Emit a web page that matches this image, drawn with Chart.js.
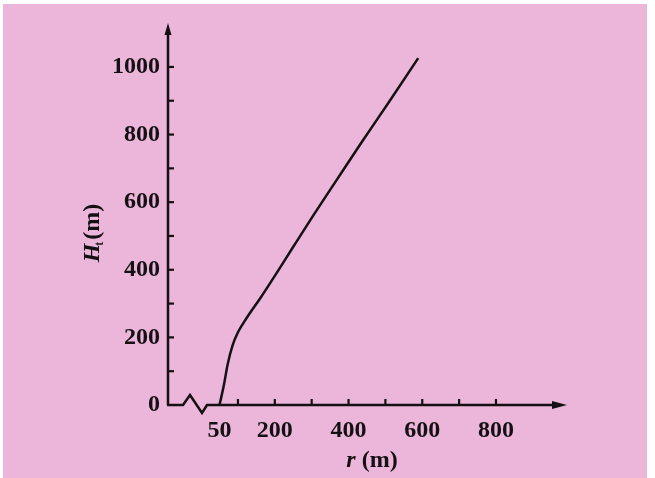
<!DOCTYPE html>
<html>
<head>
<meta charset="utf-8">
<script src="https://cdn.jsdelivr.net/npm/chart.js@4.4.1/dist/chart.umd.min.js"></script>
<style>
  html, body { margin: 0; padding: 0; background: #fff; }
  #wrap { width: 655px; height: 478px; }
</style>
</head>
<body>
<div id="wrap"><canvas id="chart" width="655" height="478"></canvas></div>
<script>
// values
const radius = [50, 62, 72, 85, 100, 124, 160, 200, 250, 304, 368, 436, 512, 589];
const heightM = [0, 60, 120, 175, 215, 258, 315, 382, 468, 560, 666, 778, 900, 1026];

const yTickLabels = [0, 200, 400, 600, 800, 1000];
const xTickLabels = [50, 200, 400, 600, 800];
const yTickMarks = [100, 200, 300, 400, 500, 600, 700, 800, 900, 1000];
const xTickMarks = [100, 200, 300, 400, 500, 600, 700, 800];

const ink = '#141014';
const paper = '#ebb6d9';
const serif = '"Liberation Serif", "DejaVu Serif", serif';

const axisDecor = {
    id: 'axisDecor',
    beforeDraw(chart) {
        const ctx = chart.ctx;
        ctx.save();
        ctx.fillStyle = '#fff';
        ctx.fillRect(0, 0, chart.width, chart.height);
        ctx.fillStyle = paper;
        ctx.fillRect(3, 4, 644, 474);
        ctx.restore();
    },
    afterDraw(chart) {
        const { ctx, chartArea: area, scales: { x, y } } = chart;
        const x0 = area.left;
        const y0 = y.getPixelForValue(0);
        ctx.save();
        ctx.strokeStyle = ink;
        ctx.fillStyle = ink;
        ctx.lineWidth = 2.5;
        ctx.lineJoin = 'miter';

        // y axis + arrow
        ctx.beginPath();
        ctx.moveTo(x0, y0);
        ctx.lineTo(x0, area.top + 8);
        ctx.stroke();
        ctx.beginPath();
        ctx.moveTo(x0, area.top);
        ctx.lineTo(x0 - 3.5, area.top + 12);
        ctx.lineTo(x0 + 3.5, area.top + 12);
        ctx.closePath();
        ctx.fill();

        // x axis with the break, + arrow
        ctx.beginPath();
        ctx.moveTo(x0 - 1, y0);
        ctx.lineTo(x0 + 15, y0);
        ctx.lineTo(x0 + 22, y0 - 10);
        ctx.lineTo(x0 + 34, y0 + 8);
        ctx.lineTo(x0 + 39, y0);
        ctx.lineTo(area.right - 8, y0);
        ctx.stroke();
        ctx.beginPath();
        ctx.moveTo(area.right, y0);
        ctx.lineTo(area.right - 15, y0 - 4);
        ctx.lineTo(area.right - 15, y0 + 4);
        ctx.closePath();
        ctx.fill();

        // tick marks pointing inward
        ctx.lineWidth = 2.2;
        yTickMarks.forEach(v => {
            const py = y.getPixelForValue(v);
            ctx.beginPath();
            ctx.moveTo(x0, py);
            ctx.lineTo(x0 + 6, py);
            ctx.stroke();
        });
        xTickMarks.forEach(v => {
            const px = x.getPixelForValue(v);
            ctx.beginPath();
            ctx.moveTo(px, y0);
            ctx.lineTo(px, y0 - 6);
            ctx.stroke();
        });

        // axis titles
        ctx.textBaseline = 'middle';
        ctx.textAlign = 'left';
        // r (m)
        ctx.font = 'italic bold 24px ' + serif;
        const rW = ctx.measureText('r').width;
        ctx.font = 'bold 24px ' + serif;
        const mW = ctx.measureText(' (m)').width;
        let tx = 372 - (rW + mW) / 2;
        ctx.font = 'italic bold 24px ' + serif;
        ctx.fillText('r', tx, 461);
        ctx.font = 'bold 24px ' + serif;
        ctx.fillText(' (m)', tx + rW, 461);

        // H_t (m), rotated
        ctx.translate(93, 233);
        ctx.rotate(-Math.PI / 2);
        ctx.font = 'italic bold 24px ' + serif;
        const hW = ctx.measureText('H').width;
        ctx.font = 'bold 12px ' + serif;
        const sW = ctx.measureText('t').width;
        ctx.font = 'bold 24px ' + serif;
        const pW = ctx.measureText('(m)').width;
        tx = -(hW + sW + pW) / 2;
        ctx.font = 'italic bold 24px ' + serif;
        ctx.fillText('H', tx, 0);
        ctx.font = 'bold 12px ' + serif;
        ctx.fillText('t', tx + hW - 2, 7);
        ctx.font = 'bold 24px ' + serif;
        ctx.fillText('(m)', tx + hW + sW, 0);
        ctx.restore();
    }
};

const ctx = document.getElementById('chart').getContext('2d');
new Chart(ctx, {
    type: 'line',
    data: {
        datasets: [{
            data: radius.map((r, i) => ({ x: r, y: heightM[i] })),
            borderColor: ink,
            borderWidth: 2.5,
            pointRadius: 0,
            fill: false,
            cubicInterpolationMode: 'monotone',
            clip: false
        }]
    },
    options: {
        responsive: false,
        animation: false,
        layout: { padding: { left: 0, top: 23, right: 88, bottom: 0 } },
        scales: {
            x: {
                type: 'linear',
                min: -89.8,
                max: 992.7,
                grid: { display: false, drawTicks: false },
                border: { display: false },
                afterBuildTicks: scale => { scale.ticks = xTickLabels.map(v => ({ value: v })); },
                afterFit: scale => { scale.height = 73; },
                ticks: {
                    color: ink,
                    padding: 11,
                    maxRotation: 0,
                    autoSkip: false,
                    callback: v => String(v),
                    font: { family: serif, size: 24, weight: 'bold' }
                }
            },
            y: {
                min: 0,
                max: 1130,
                grid: { display: false, drawTicks: false },
                border: { display: false },
                afterBuildTicks: scale => { scale.ticks = yTickLabels.map(v => ({ value: v })); },
                afterFit: scale => { scale.width = 168; },
                ticks: {
                    color: ink,
                    padding: 8,
                    callback: v => String(v),
                    font: { family: serif, size: 24, weight: 'bold' }
                }
            }
        },
        plugins: {
            legend: { display: false },
            tooltip: { enabled: false }
        }
    },
    plugins: [axisDecor]
});
</script>
</body>
</html>
